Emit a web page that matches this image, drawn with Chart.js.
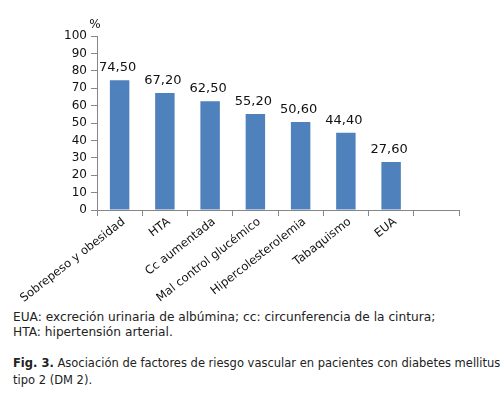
<!DOCTYPE html>
<html>
<head>
<meta charset="utf-8">
<script src="https://cdn.jsdelivr.net/npm/chart.js@4"></script>
<style>
  body { margin: 0; background: #fff; font-family: "DejaVu Sans", Verdana, sans-serif; }
  #wrap { position: absolute; left: 0; top: 0; width: 503px; height: 310px; }
  .note { position: absolute; left: 13px; font-size: 12.2px; color: #222; line-height: 15px; }
  .fig { position: absolute; left: 13px; font-size: 11.5px; color: #222; line-height: 17px; }
</style>
</head>
<body>
<div id="wrap"><canvas id="riskChart"></canvas></div>
<div class="note" style="top:310px">EUA: excreción urinaria de albúmina; cc: circunferencia de la cintura;<br>HTA: hipertensión arterial.</div>
<div class="fig" style="top:355px"><b>Fig. 3.</b> Asociación de factores de riesgo vascular en pacientes con diabetes mellitus<br>tipo 2 (DM 2).</div>
<script>
const categories = ['Sobrepeso y obesidad', 'HTA', 'Cc aumentada', 'Mal control glucémico',
  'Hipercolesterolemia', 'Tabaquismo', 'EUA', ''];
const percentages = [74.5, 67.2, 62.5, 55.2, 50.6, 44.4, 27.6, null];
const yTicks = [0, 10, 20, 30, 40, 50, 60, 70, 80, 90, 100];

const axisGray = '#868686';
const textFont = { family: "'DejaVu Sans', Verdana, sans-serif", size: 12 };

// value labels above bars, comma decimals
const valueLabels = {
  id: 'valueLabels',
  afterDatasetsDraw(chart) {
    const ctx = chart.ctx;
    const meta = chart.getDatasetMeta(0);
    ctx.save();
    ctx.font = "13px 'DejaVu Sans', Verdana, sans-serif";
    ctx.fillStyle = '#111';
    ctx.textAlign = 'center';
    ctx.textBaseline = 'alphabetic';
    meta.data.forEach((bar, i) => {
      const v = percentages[i];
      if (v == null) return;
      ctx.fillText(v.toFixed(2).replace('.', ','), bar.x - 2, bar.y - 9);
    });
    // "%" unit above y axis
    const y = chart.scales.y;
    ctx.font = "12px 'DejaVu Sans', Verdana, sans-serif";
    ctx.fillText('%', y.right - 2, y.top - 8);
    ctx.restore();
  }
};

new Chart(document.getElementById('riskChart'), {
  type: 'bar',
  data: {
    labels: categories,
    datasets: [{
      data: percentages,
      backgroundColor: '#4F81BD',
      borderWidth: 0,
      categoryPercentage: 1,
      barPercentage: 0.43
    }]
  },
  options: {
    responsive: true,
    maintainAspectRatio: false,
    animation: false,
    layout: { padding: { top: 36, right: 44, left: 0, bottom: 0 } },
    plugins: { legend: { display: false }, tooltip: { enabled: false } },
    scales: {
      x: {
        grid: { drawOnChartArea: false, color: axisGray, tickLength: 6 },
        border: { color: axisGray },
        ticks: {
          color: '#111', font: { family: textFont.family, size: 11.7 },
          maxRotation: 38, minRotation: 38, padding: -1, labelOffset: 4, autoSkip: false
        },
        afterFit(s) { s.height = 100; s.paddingLeft = 0; s.paddingRight = 0; }
      },
      y: {
        min: 0,
        max: 100,
        afterBuildTicks(s) { s.ticks = yTicks.map(v => ({ value: v })); },
        grid: { drawOnChartArea: false, color: axisGray, tickLength: 6 },
        border: { color: axisGray },
        ticks: { color: '#111', font: textFont, padding: 4 },
        afterFit(s) { s.width = 97; }
      }
    }
  },
  plugins: [valueLabels]
});
</script>
</body>
</html>
